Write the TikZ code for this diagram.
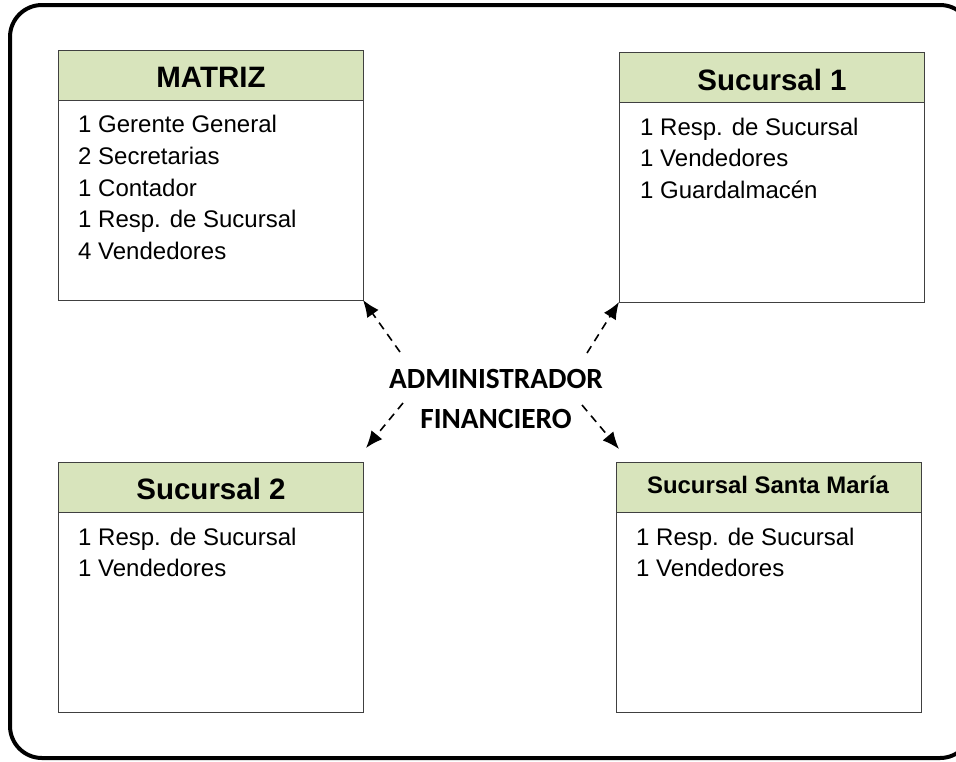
\documentclass[tikz,border=0pt]{standalone}
\usepackage{fontspec}
\setmainfont{Liberation Sans}
\newfontfamily\calibrifont{Carlito}
\usetikzlibrary{arrows.meta,positioning}
\definecolor{headgreen}{HTML}{D8E4BC}
\definecolor{boxline}{HTML}{404040}
\tikzset{
  unitbox/.style={draw=boxline, line width=1pt, fill=white, minimum width=305pt, minimum height=250pt, inner sep=0pt, outer sep=0pt, anchor=north west},
  headbox/.style={draw=boxline, line width=1pt, fill=headgreen, minimum width=305pt, minimum height=50pt, inner sep=0pt, outer sep=0pt, anchor=north west},
  title/.style={anchor=base, inner sep=0pt, font=\fontsize{29.5}{34}\selectfont\bfseries},
  % multi-line nodes: the base anchor sits on the last line
  staff/.style={anchor=base west, align=left, inner sep=0pt, font=\fontsize{24}{31.7}\selectfont},
  link/.style={dashed, dash pattern=on 8pt off 6pt, line width=1.6pt, -{Latex[length=17pt,width=14pt]}},
}
\begin{document}
\begin{tikzpicture}[x=1pt,y=-1pt]
\useasboundingbox (0,0) rectangle (956,761);
\begin{scope}
\clip (0,0) rectangle (956,761);
\draw[line width=4pt, rounded corners=32pt] (10,5) rectangle (972,758);
\end{scope}

% MATRIZ
\node[unitbox] (matriz) at (58,50) {};
\node[headbox] (matrizh) at (58,50) {};
\node[title] (matrizn) at (211,87) {MATRIZ};
\node[staff] (matrizt) at (78,259.5) {1 Gerente General\\2 Secretarias\\1 Contador\\1 Resp. de Sucursal\\4 Vendedores};

% Sucursal 1
\node[unitbox] (suc1) at (619,52) {};
\node[headbox] (suc1h) at (619,52) {};
\node[title] (suc1n) at (772,90) {Sucursal 1};
\node[staff] (suc1t) at (640,198.5) {1 Resp. de Sucursal\\1 Vendedores\\1 Guardalmacén};

% Sucursal 2
\node[unitbox] (suc2) at (58,462) {};
\node[headbox] (suc2h) at (58,462) {};
\node[title] (suc2n) at (211,499) {Sucursal 2};
\node[staff] (suc2t) at (78,576.7) {1 Resp. de Sucursal\\1 Vendedores};

% Sucursal Santa María
\node[unitbox] (sm) at (616,462) {};
\node[headbox] (smh) at (616,462) {};
\node[title, font=\fontsize{23.9}{28}\selectfont\bfseries] (smn) at (768,493) {Sucursal Santa María};
\node[staff] (smt) at (636,576.7) {1 Resp. de Sucursal\\1 Vendedores};

% Central administrator
\node[anchor=base, align=center, inner sep=0pt, font=\calibrifont\fontsize{29.3}{40}\selectfont\bfseries] (admin) at (496,428) {ADMINISTRADOR\\FINANCIERO};

% Connector ends
\coordinate (tlstart) at (400,352);
\coordinate (trstart) at (587,353);
\coordinate (blstart) at (403,403);
\coordinate (brstart) at (582,405);
\coordinate (blend) at (366,448);
\coordinate (brend) at (619,449);

\draw[link] (tlstart) -- (matriz.south east);
\draw[link] (trstart) -- (suc1.south west);
\draw[link] (blstart) -- (blend);
\draw[link] (brstart) -- (brend);
\end{tikzpicture}
\end{document}
